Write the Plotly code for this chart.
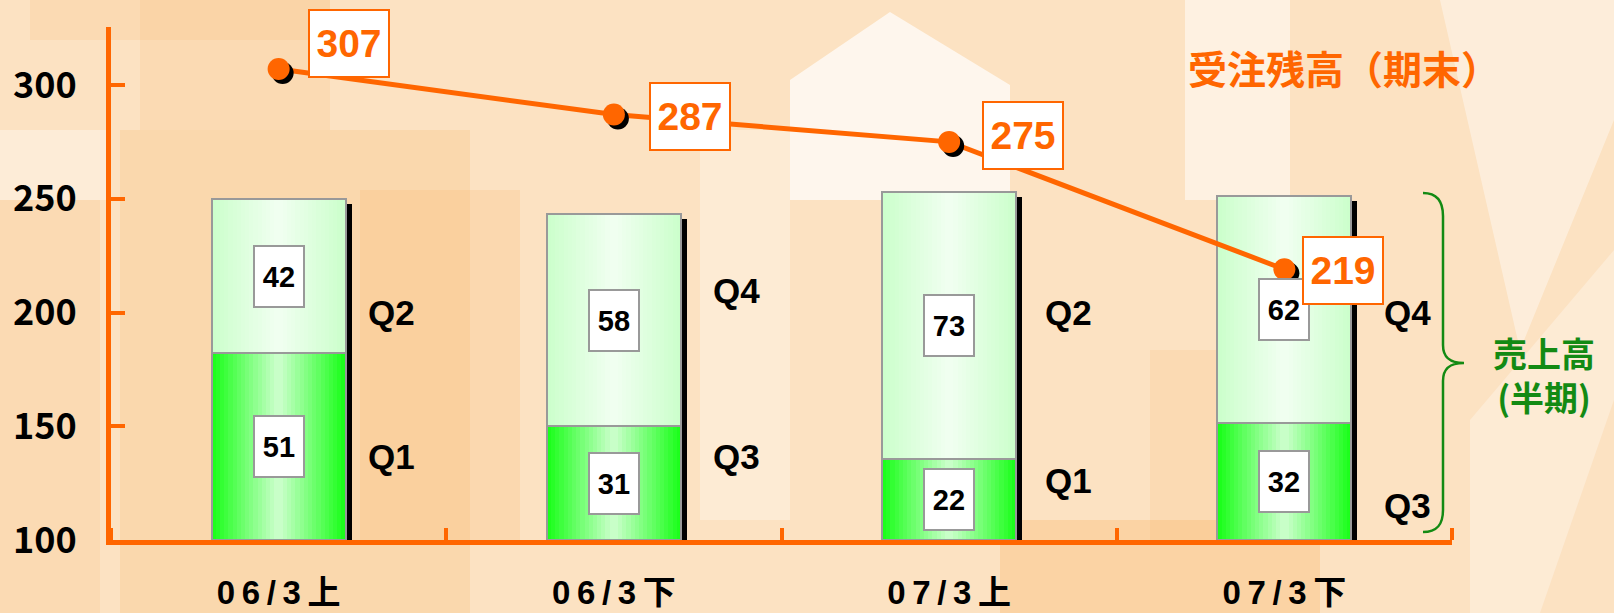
import plotly.graph_objects as go

# ---------------- data ----------------
categories = ["06/3上", "06/3下", "07/3上", "07/3下"]
tick_text = ["0\u20096\u2009/\u20093\u2009上", "0\u20096\u2009/\u20093\u2009下",
             "0\u20097\u2009/\u20093\u2009上", "0\u20097\u2009/\u20093\u2009下"]
first_quarter = [51, 31, 22, 32]     # Q1 / Q3 sales
second_quarter = [42, 58, 73, 62]    # Q2 / Q4 sales
first_names = ["Q1", "Q3", "Q1", "Q3"]
second_names = ["Q2", "Q4", "Q2", "Q4"]
backlog = [307, 287, 275, 219]       # order backlog (end of period)
y_ticks = [100, 150, 200, 250, 300]
backlog_title = "受注残高（期末）"
sales_title = "売上高<br>(半期)"

# ---------------- layout constants ----------------
W, H = 1614, 613
L, R, T, B = 111, 1452, 27, 540
Y_MIN, Y_MAX = 100, 325.5
BAR_SCALE = 1.61
BAR_MAX = (Y_MAX - Y_MIN) / BAR_SCALE
ORANGE = "#ff6600"
GREEN = "#138a13"
CJK = "Noto Sans CJK JP"
ARIAL = "Liberation Sans"

n = len(categories)
xs = list(range(n))
px_x = (R - L) / n
px_y = (B - T) / (Y_MAX - Y_MIN)
px_bar = (B - T) / BAR_MAX
BW = 0.4


def px2paper(px, py):
    return (px - L) / (R - L), (B - py) / (B - T)


def lerp(c1, c2, t):
    return "rgb(%d,%d,%d)" % tuple(round(a + (b - a) * t) for a, b in zip(c1, c2))


fig = go.Figure()

totals = [a + b for a, b in zip(first_quarter, second_quarter)]
# drop shadow of the bars
fig.add_trace(go.Bar(
    x=xs, y=[t - 5 / px_bar for t in totals], width=BW, offset=-BW / 2 + 6 / px_x,
    marker=dict(color="black", line=dict(width=0)), yaxis="y", hoverinfo="skip",
    showlegend=False))

# gradient layers
N = 16
q1_edge, q1_mid = (28, 255, 28), (200, 255, 200)
q2_edge, q2_mid = (204, 255, 204), (240, 255, 240)
for k in range(N):
    w = BW * (1 - k / N)
    t = k / (N - 1)
    fig.add_trace(go.Bar(x=xs, y=first_quarter, width=w, offset=-w / 2,
                         marker=dict(color=lerp(q1_edge, q1_mid, t), line=dict(width=0)),
                         yaxis="y", hoverinfo="skip", showlegend=False))
    fig.add_trace(go.Bar(x=xs, y=second_quarter, base=first_quarter, width=w, offset=-w / 2,
                         marker=dict(color=lerp(q2_edge, q2_mid, t), line=dict(width=0)),
                         yaxis="y", hoverinfo="skip", showlegend=False))
# outlines
fig.add_trace(go.Bar(x=xs, y=first_quarter, width=BW, offset=-BW / 2,
                     marker=dict(color="rgba(0,0,0,0)", line=dict(color="#999999", width=2)),
                     yaxis="y", showlegend=False, name="前半"))
fig.add_trace(go.Bar(x=xs, y=second_quarter, base=first_quarter, width=BW, offset=-BW / 2,
                     marker=dict(color="rgba(0,0,0,0)", line=dict(color="#999999", width=2)),
                     yaxis="y", showlegend=False, name="後半"))

# backlog line
fig.add_trace(go.Scatter(x=xs, y=backlog, mode="lines", line=dict(color=ORANGE, width=5),
                         yaxis="y2", showlegend=False, hoverinfo="skip"))
fig.add_trace(go.Scatter(x=[x + 4 / px_x for x in xs], y=[v - 4 / px_y for v in backlog],
                         mode="markers", marker=dict(color="black", size=22),
                         yaxis="y2", showlegend=False, hoverinfo="skip"))
fig.add_trace(go.Scatter(x=xs, y=backlog, mode="markers", marker=dict(color=ORANGE, size=22),
                         yaxis="y2", showlegend=False, name=backlog_title))

ann = []
# value boxes inside bars
for i in xs:
    for val, mid in ((first_quarter[i], first_quarter[i] / 2),
                     (second_quarter[i], first_quarter[i] + second_quarter[i] / 2)):
        ann.append(dict(x=i, y=mid, xref="x", yref="y", text="<b>%d</b>" % val,
                        showarrow=False, font=dict(family=ARIAL, size=29, color="black"),
                        bgcolor="white", bordercolor="#999999", borderwidth=2, borderpad=0,
                        width=48, height=59))
# backlog value boxes
b_shift = [(70, 26), (76, -2), (74, 6), (59, -1)]
for i in xs:
    dx, dy = b_shift[i]
    ann.append(dict(x=i, y=backlog[i], xref="x", yref="y2", text="<b>%d</b>" % backlog[i],
                    xshift=dx, yshift=dy, showarrow=False,
                    font=dict(family=ARIAL, size=39, color=ORANGE),
                    bgcolor="white", bordercolor=ORANGE, borderwidth=2, borderpad=0,
                    width=78, height=65))
# quarter labels
q_first_y = [136.9, 136.5, 126.0, 115.0]
q_second_y = [199.8, 209.5, 199.8, 199.8]
q_gap = [20, 30, 27, 31]
for i in xs:
    for txt, yy in ((first_names[i], q_first_y[i]), (second_names[i], q_second_y[i])):
        ann.append(dict(x=i + BW / 2, y=yy, xref="x", yref="y2", text="<b>%s</b>" % txt,
                        xanchor="left", xshift=q_gap[i], showarrow=False,
                        font=dict(family=ARIAL, size=35, color="black")))
# titles
tx, ty = px2paper(1186, 67)
ann.append(dict(x=tx, y=ty, xref="paper", yref="paper", text=backlog_title, xanchor="left",
                yanchor="middle", showarrow=False,
                font=dict(family=CJK, size=39, color=ORANGE, weight="bold")))
sx, sy = px2paper(1544, 374)
ann.append(dict(x=sx, y=sy, xref="paper", yref="paper", text=sales_title, xanchor="center",
                yanchor="middle", showarrow=False, align="center",
                font=dict(family=CJK, size=34, color=GREEN, weight="bold")))


# brace
def P(px, py):
    a, b = px2paper(px, py)
    return "%.5f,%.5f" % (a, b)


brace = ("M " + P(1423, 193) + " C " + P(1437, 193) + " " + P(1443, 201) + " " + P(1443, 216) +
         " L " + P(1443, 345) + " C " + P(1443, 357) + " " + P(1449, 363) + " " + P(1464, 363) +
         " C " + P(1449, 363) + " " + P(1443, 369) + " " + P(1443, 381) +
         " L " + P(1443, 510) + " C " + P(1443, 525) + " " + P(1437, 532) + " " + P(1423, 532))

shapes = []


def rect(x0, y0, x1, y1, color):
    a0, b0 = px2paper(x0, y1)
    a1, b1 = px2paper(x1, y0)
    shapes.append(dict(type="rect", xref="paper", yref="paper", x0=a0, y0=b0, x1=a1, y1=b1,
                       fillcolor=color, line=dict(width=0), layer="below"))


def poly(pts, color):
    path = "M " + " L ".join(P(a, b) for a, b in pts) + " Z"
    shapes.append(dict(type="path", xref="paper", yref="paper", path=path,
                       fillcolor=color, line=dict(width=0), layer="below"))


# soft background pattern
rect(0, 0, 1614, 613, "#fce2c2")
rect(120, 130, 470, 613, "rgba(248,180,100,0.22)")
rect(140, 0, 330, 130, "rgba(248,190,120,0.2)")
rect(0, 200, 100, 613, "rgba(248,185,110,0.18)")
rect(360, 190, 520, 540, "rgba(248,180,100,0.2)")
rect(1000, 520, 1320, 613, "rgba(248,175,95,0.3)")
rect(1150, 350, 1250, 540, "rgba(248,185,110,0.18)")
rect(30, 0, 330, 40, "rgba(248,190,120,0.2)")
poly([(790, 200), (790, 80), (890, 12), (1010, 85), (1010, 200)], "rgba(255,255,255,0.7)")
rect(700, 130, 790, 520, "rgba(255,255,255,0.3)")
rect(1185, 0, 1290, 200, "rgba(255,255,255,0.5)")
poly([(1440, 0), (1614, 0), (1614, 120), (1520, 350)], "rgba(255,255,255,0.4)")
poly([(1470, 420), (1614, 250), (1614, 400), (1540, 613), (1470, 613)], "rgba(255,255,255,0.3)")
rect(0, 130, 110, 200, "rgba(255,255,255,0.35)")

shapes.append(dict(type="path", xref="paper", yref="paper", path=brace,
                   line=dict(color=GREEN, width=2.5)))

fig.update_layout(
    width=W, height=H,
    margin=dict(l=L, r=W - R, t=T, b=H - B, autoexpand=False),
    paper_bgcolor="#fce2c2", plot_bgcolor="rgba(0,0,0,0)",
    barmode="overlay", bargap=0,
    showlegend=False,
    xaxis=dict(range=[-0.5, n - 0.5], tickmode="array", tickvals=xs, ticktext=tick_text,
               ticks="", showgrid=False, zeroline=False, automargin=False,
               showline=True, linecolor=ORANGE, linewidth=5,
               tickfont=dict(family=ARIAL + ", " + CJK, size=33, color="black", weight="bold"),
               ticklabelstandoff=19,
               minor=dict(tickmode="array", tickvals=[i - 0.5 for i in range(n + 1)],
                          ticks="inside", ticklen=12, tickwidth=4, tickcolor=ORANGE,
                          showgrid=False)),
    yaxis=dict(range=[0, BAR_MAX], visible=False, showgrid=False, zeroline=False,
               automargin=False),
    yaxis2=dict(range=[Y_MIN, Y_MAX], overlaying="y", side="left", anchor="x",
                tickmode="array", tickvals=y_ticks, ticks="inside", ticklen=14, tickwidth=4,
                tickcolor=ORANGE, showline=True, linecolor=ORANGE, linewidth=5,
                showgrid=False, zeroline=False, automargin=False,
                tickfont=dict(family=CJK, size=36, color="black", weight="bold"),
                ticklabelstandoff=22),
    annotations=ann,
    shapes=shapes,
)

fig.write_html("out.html", config={"displayModeBar": False},
               post_script="document.body.style.margin='0';"
                           "document.body.style.overflow='hidden';"
                           "document.body.style.background='#fce2c2';")
